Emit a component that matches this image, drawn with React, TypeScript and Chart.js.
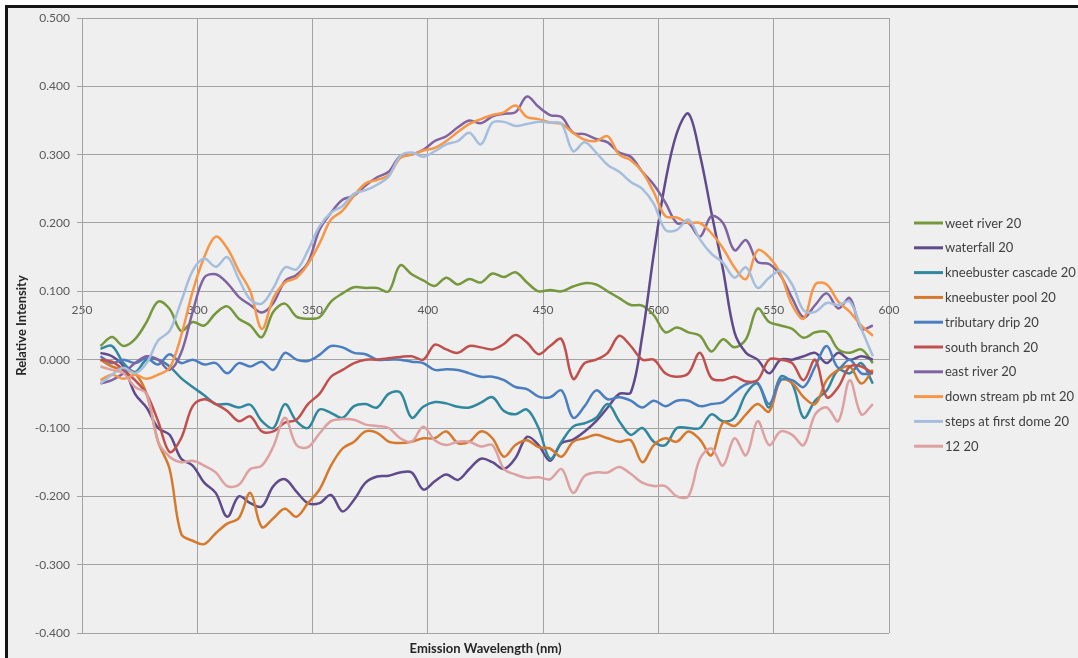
import React, { useEffect, useRef } from "react";
import { Chart, registerables } from "chart.js";

Chart.register(...registerables);

// Emission wavelength (nm) sample positions
const wavelengths = [
  258, 263, 268, 273, 278, 283, 288, 293, 298, 303,
  308, 313, 318, 323, 328, 333, 338, 343, 348, 353,
  358, 363, 368, 373, 378, 383, 388, 393, 398, 403,
  408, 413, 418, 423, 428, 433, 438, 443, 448, 453,
  458, 463, 468, 473, 478, 483, 488, 493, 498, 503,
  508, 513, 518, 523, 528, 533, 538, 543, 548, 553,
  558, 563, 568, 573, 578, 583, 588, 593,
];

const weetRiver20 = [
  0.02, 0.033, 0.02, 0.03, 0.055, 0.085, 0.074, 0.042, 0.055, 0.05,
  0.068, 0.078, 0.06, 0.05, 0.033, 0.07, 0.082, 0.063, 0.06, 0.062,
  0.085, 0.097, 0.106, 0.105, 0.105, 0.1, 0.138, 0.125, 0.116, 0.108,
  0.12, 0.11, 0.118, 0.113, 0.126, 0.121, 0.128, 0.113, 0.1, 0.102,
  0.1, 0.107, 0.112, 0.11, 0.1, 0.09, 0.08, 0.079, 0.065, 0.04,
  0.047, 0.04, 0.035, 0.012, 0.03, 0.018, 0.03, 0.075, 0.055, 0.05,
  0.045, 0.032, 0.04, 0.04, 0.015, 0.01, 0.015, -0.005,
];

const waterfall20 = [
  0.01, 0.005, -0.01, -0.05, -0.07, -0.1, -0.11, -0.145, -0.155, -0.18,
  -0.195, -0.23, -0.2, -0.21, -0.215, -0.185, -0.175, -0.193, -0.21, -0.21,
  -0.198, -0.222, -0.205, -0.18, -0.171, -0.17, -0.165, -0.165, -0.19, -0.178,
  -0.168, -0.176, -0.16, -0.145, -0.15, -0.16, -0.144, -0.113, -0.125, -0.148,
  -0.122, -0.117, -0.105, -0.09, -0.07, -0.05, -0.048, 0.035, 0.155, 0.26,
  0.332, 0.36, 0.3, 0.215, 0.132, 0.04, 0.01, 0.0, -0.02, 0.0,
  0.0, 0.005, 0.01, -0.005, 0.01, 0.0, 0.005, 0.0,
];

const kneebusterCascade20 = [
  0.016, 0.02, -0.005, -0.018, 0.0, 0.0, -0.01, -0.027, -0.04, -0.052,
  -0.065, -0.065, -0.07, -0.066, -0.09, -0.1, -0.065, -0.09, -0.1, -0.073,
  -0.078, -0.085, -0.068, -0.065, -0.07, -0.05, -0.048, -0.085, -0.069, -0.062,
  -0.064, -0.069, -0.07, -0.063, -0.055, -0.075, -0.08, -0.073, -0.1, -0.145,
  -0.12, -0.098, -0.093, -0.085, -0.065, -0.09, -0.11, -0.1, -0.12, -0.125,
  -0.1, -0.1, -0.1, -0.08, -0.09, -0.085, -0.05, -0.035, -0.07, -0.025,
  -0.035, -0.085, -0.06, -0.045, -0.015, -0.02, -0.005, -0.035,
];

const kneebusterPool20 = [
  0.0, -0.01, -0.015, -0.02, -0.05, -0.12, -0.16, -0.255, -0.265, -0.27,
  -0.254, -0.24, -0.232, -0.195, -0.245, -0.232, -0.218, -0.23, -0.21, -0.19,
  -0.155, -0.13, -0.12, -0.105, -0.107, -0.12, -0.122, -0.12, -0.115, -0.115,
  -0.105, -0.122, -0.12, -0.105, -0.115, -0.142, -0.125, -0.118, -0.128, -0.13,
  -0.142, -0.12, -0.115, -0.11, -0.115, -0.12, -0.118, -0.15, -0.125, -0.115,
  -0.12, -0.105, -0.117, -0.14, -0.092, -0.097, -0.08, -0.065, -0.076, -0.03,
  -0.034, -0.055, -0.065, -0.03, -0.015, -0.01, -0.035, -0.015,
];

const tributaryDrip20 = [
  0.005, -0.005, 0.0, -0.005, 0.002, -0.007, 0.008, -0.005, 0.0, -0.007,
  -0.005, -0.02, -0.005, -0.01, -0.003, -0.015, 0.01, 0.0, -0.002, 0.007,
  0.02, 0.018, 0.01, 0.008, 0.0, 0.0, 0.0, -0.003, -0.005, -0.015,
  -0.014, -0.015, -0.02, -0.025, -0.025, -0.03, -0.04, -0.043, -0.054, -0.055,
  -0.045, -0.085, -0.068, -0.045, -0.058, -0.055, -0.06, -0.07, -0.06, -0.068,
  -0.06, -0.06, -0.068, -0.065, -0.062, -0.048, -0.036, -0.034, -0.065, -0.03,
  -0.03, -0.04, -0.01, 0.02, -0.012, 0.0, -0.02, -0.02,
];

const southBranch20 = [
  0.0, -0.003, -0.015, -0.03, -0.05, -0.09, -0.135, -0.115, -0.068, -0.058,
  -0.065, -0.075, -0.09, -0.083, -0.105, -0.105, -0.092, -0.088, -0.065, -0.05,
  -0.025, -0.015, -0.005, 0.0, 0.0, 0.002, 0.004, 0.005, 0.0, 0.022,
  0.015, 0.01, 0.02, 0.018, 0.015, 0.023, 0.036, 0.025, 0.008, 0.02,
  0.03, -0.028, -0.005, 0.0, 0.01, 0.035, 0.02, 0.0, 0.0, -0.02,
  -0.025, -0.02, 0.01, -0.027, -0.03, -0.025, -0.032, -0.03, 0.0, 0.0,
  -0.005, -0.03, 0.0, -0.055, -0.04, -0.01, -0.01, -0.02,
];

const eastRiver20 = [
  -0.035, -0.03, -0.02, -0.005, 0.005, 0.0, -0.015, 0.01, 0.07, 0.12,
  0.125, 0.112, 0.092, 0.08, 0.069, 0.083, 0.115, 0.124, 0.142, 0.19,
  0.215, 0.234, 0.24, 0.255, 0.267, 0.275, 0.298, 0.3, 0.307, 0.32,
  0.327, 0.34, 0.35, 0.346, 0.356, 0.36, 0.362, 0.385, 0.37, 0.358,
  0.355, 0.332, 0.33, 0.323, 0.318, 0.303, 0.297, 0.275, 0.256, 0.23,
  0.2, 0.2, 0.18, 0.21, 0.2, 0.16, 0.175, 0.143, 0.14, 0.123,
  0.09, 0.062, 0.08, 0.097, 0.075, 0.09, 0.045, 0.05,
];

const downStreamPbMt20 = [
  -0.03, -0.022, -0.028, -0.022, -0.028, -0.022, -0.012, 0.035, 0.1, 0.15,
  0.18, 0.163, 0.13, 0.1, 0.045, 0.09, 0.113, 0.12, 0.14, 0.17,
  0.205, 0.218, 0.24, 0.258, 0.263, 0.27, 0.295, 0.3, 0.306, 0.31,
  0.32, 0.333, 0.345, 0.352, 0.358, 0.362, 0.372, 0.355, 0.352, 0.347,
  0.345, 0.332, 0.322, 0.32, 0.327, 0.3, 0.292, 0.275, 0.245, 0.21,
  0.208, 0.2, 0.2, 0.185, 0.163, 0.135, 0.118, 0.16, 0.15, 0.125,
  0.08, 0.06, 0.11, 0.11, 0.085, 0.07, 0.05, 0.035,
];

const stepsAtFirstDome20 = [
  -0.035, -0.022, -0.012, -0.02, -0.005, 0.028, 0.042, 0.085, 0.13, 0.148,
  0.136, 0.15, 0.118, 0.088, 0.082, 0.105, 0.135, 0.132, 0.16, 0.195,
  0.215, 0.225, 0.243, 0.248, 0.256, 0.268, 0.298, 0.303, 0.297, 0.305,
  0.315, 0.32, 0.332, 0.315, 0.347, 0.348, 0.342, 0.345, 0.348, 0.347,
  0.345, 0.305, 0.318, 0.303, 0.285, 0.275, 0.26, 0.25, 0.228, 0.19,
  0.19, 0.205, 0.176, 0.155, 0.142, 0.12, 0.135, 0.105, 0.12, 0.13,
  0.11, 0.072, 0.07, 0.083, 0.08, 0.085, 0.045, 0.005,
];

const twelve20 = [
  -0.01, -0.015, -0.02, -0.04, -0.05, -0.12, -0.142, -0.15, -0.148, -0.155,
  -0.165, -0.185, -0.183, -0.16, -0.155, -0.127, -0.085, -0.125, -0.128, -0.108,
  -0.09, -0.087, -0.088, -0.095, -0.097, -0.1, -0.115, -0.12, -0.098, -0.118,
  -0.125, -0.12, -0.12, -0.127, -0.125, -0.16, -0.168, -0.173, -0.172, -0.175,
  -0.16, -0.195, -0.17, -0.165, -0.165, -0.157, -0.167, -0.18, -0.185, -0.185,
  -0.2, -0.2, -0.145, -0.13, -0.155, -0.115, -0.14, -0.09, -0.125, -0.105,
  -0.11, -0.125, -0.08, -0.07, -0.09, -0.03, -0.08, -0.065,
];

const seriesLabels = [
  "weet river 20",
  "waterfall 20",
  "kneebuster cascade 20",
  "kneebuster pool 20",
  "tributary drip 20",
  "south branch 20",
  "east river 20",
  "down stream pb mt 20",
  "steps at first dome 20",
  "12 20",
];

const seriesColors = [
  "#76983C",
  "#5F4A8B",
  "#31879E",
  "#D57A2D",
  "#4A7EC0",
  "#C0504D",
  "#8064A2",
  "#F79646",
  "#A5BEDD",
  "#DCA1A0",
];

const xAxisTitle = "Emission Wavelength (nm)";
const yAxisTitle = "Relative Intensity";

export default function App() {
  const canvasRef = useRef<HTMLCanvasElement>(null);

  useEffect(() => {
    document.body.style.margin = "0";
    document.body.style.overflow = "hidden";
    const canvas = canvasRef.current;
    if (!canvas) return;

    const seriesValues = [
      weetRiver20,
      waterfall20,
      kneebusterCascade20,
      kneebusterPool20,
      tributaryDrip20,
      southBranch20,
      eastRiver20,
      downStreamPbMt20,
      stepsAtFirstDome20,
      twelve20,
    ];

    const backgroundPlugin = {
      id: "frameBackground",
      beforeDraw(chart: any) {
        const { ctx, width, height } = chart;
        ctx.save();
        ctx.fillStyle = "#ffffff";
        ctx.fillRect(0, 0, width, height);
        ctx.fillStyle = "#efefef";
        ctx.fillRect(8, 8, width - 8, height - 8);
        ctx.fillStyle = "#151515";
        ctx.fillRect(5, 5, width - 5, 3);
        ctx.fillRect(5, 5, 3, height - 5);
        ctx.restore();
      },
    };

    const sideLegendPlugin = {
      id: "sideLegend",
      afterDraw(chart: any) {
        const { ctx, chartArea } = chart;
        const x0 = chartArea.right + 25;
        ctx.save();
        ctx.font = "13px Lato";
        ctx.textBaseline = "middle";
        ctx.textAlign = "left";
        chart.data.datasets.forEach((ds: any, i: number) => {
          const yy = 223 + i * 24.8;
          ctx.strokeStyle = ds.borderColor;
          ctx.lineWidth = 3;
          ctx.beginPath();
          ctx.moveTo(x0, yy);
          ctx.lineTo(x0 + 29, yy);
          ctx.stroke();
          ctx.fillStyle = "#404040";
          ctx.fillText(ds.label, x0 + 31, yy + 0.5);
        });
        ctx.restore();
      },
    };

    const chart = new Chart(canvas, {
      type: "line",
      data: {
        datasets: seriesLabels.map((label, i) => ({
          label,
          data: wavelengths.map((x, j) => ({ x, y: seriesValues[i][j] })),
          borderColor: seriesColors[i],
          backgroundColor: seriesColors[i],
          borderWidth: 2.5,
          pointRadius: 0,
          tension: 0.35,
          fill: false,
          order: seriesLabels.length - i,
        })),
      },
      options: {
        responsive: false,
        animation: false,
        events: [],
        layout: { padding: { top: 18, right: 189, bottom: 0, left: 0 } },
        plugins: {
          legend: { display: false },
          tooltip: { enabled: false },
        },
        scales: {
          x: {
            type: "linear",
            min: 250,
            max: 600,
            position: { y: 0.1 },
            border: { display: false },
            grid: { color: "#a3a3a3", lineWidth: 1, drawTicks: false },
            ticks: {
              stepSize: 50,
              autoSkip: false,
              maxRotation: 0,
              padding: 12,
              color: "#595959",
              font: { family: "Lato", size: 12 },
            },
          },
          xTitle: {
            type: "linear",
            axis: "x",
            min: 250,
            max: 600,
            position: "bottom",
            border: { display: false },
            grid: { display: false, drawTicks: false },
            ticks: { display: false },
            title: {
              display: true,
              text: xAxisTitle,
              color: "#262626",
              font: { family: "Lato", size: 13, weight: "bold" },
              padding: { top: 8, bottom: 1.4 },
            },
          },
          y: {
            type: "linear",
            min: -0.4,
            max: 0.5,
            border: { display: true, color: "#a3a3a3" },
            grid: { color: "#a3a3a3", lineWidth: 1, drawTicks: true, tickLength: 5 },
            ticks: {
              stepSize: 0.1,
              padding: 7,
              color: "#595959",
              font: { family: "Lato", size: 12 },
              callback: (v: any) => (Math.abs(Number(v)) < 1e-9 ? "0.000" : Number(v).toFixed(3)),
            },
            title: {
              display: true,
              text: yAxisTitle,
              color: "#262626",
              font: { family: "Lato", size: 13, weight: "bold" },
              padding: { top: 14, bottom: 0 },
            },
            afterFit: (scale: any) => {
              scale.width = 82;
            },
          },
        },
      },
      plugins: [backgroundPlugin, sideLegendPlugin],
    } as any);

    return () => {
      chart.destroy();
    };
  }, []);

  return (
    <div style={{ width: 1078, height: 658 }}>
      <canvas ref={canvasRef} width={1078} height={658} style={{ display: "block" }} />
    </div>
  );
}
